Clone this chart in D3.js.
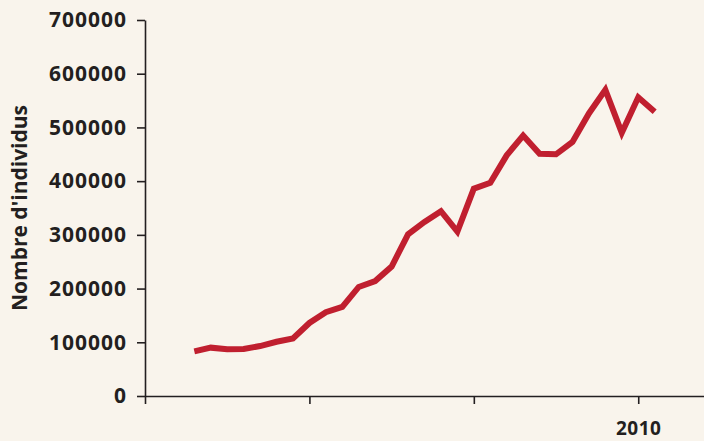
<!DOCTYPE html>
<html>
<head>
<meta charset="utf-8">
<script src="https://cdn.jsdelivr.net/npm/d3@7"></script>
<style>
  html, body { margin: 0; padding: 0; background: #f9f4ec; }
  svg { display: block; }
  .axis text { font-family: "Open Sans", sans-serif; font-weight: 700; fill: #231f20; }
</style>
</head>
<body>
<div id="graph"></div>
<script>
// yearly counts
var years = [1983, 1984, 1985, 1986, 1987, 1988, 1989, 1990, 1991, 1992,
             1993, 1994, 1995, 1996, 1997, 1998, 1999, 2000, 2001, 2002,
             2003, 2004, 2005, 2006, 2007, 2008, 2009, 2010, 2011];
var individus = [83000, 90000, 87000, 87500, 93000, 101000, 107000, 136000, 156000, 166000,
                 203000, 214000, 241000, 301000, 324000, 344000, 306000, 386000, 397000, 448000,
                 485000, 451000, 450000, 473000, 526000, 570000, 490000, 556000, 529000];
var yTicks = [0, 100000, 200000, 300000, 400000, 500000, 600000, 700000];
var xTicks = [1980, 1990, 2000, 2010];
var xLabels = {2010: "2010"};

var svgWidth = 704, svgHeight = 441;
var margin = {top: 20, right: 0, bottom: 45, left: 145};

var svg = d3.select('#graph').append('svg')
  .attr("width", svgWidth)
  .attr("height", svgHeight);
var width = svgWidth - margin.left - margin.right;
var height = svgHeight - margin.top - margin.bottom;

var g = svg.append('g')
  .attr('transform', 'translate(' + margin.left + ',' + margin.top + ')');

var x = d3.scaleLinear().domain([1980, 2014]).range([0, width]);
var y = d3.scaleLinear().domain([0, 700000]).range([height, 0]);

// x axis
var xAxis = g.append("g")
  .attr("class", "axis")
  .attr("transform", "translate(0," + height + ")")
  .call(d3.axisBottom(x)
    .tickValues(xTicks)
    .tickSize(8)
    .tickSizeOuter(0)
    .tickPadding(18)
    .tickFormat(function(d) { return xLabels[d] || ""; }));
xAxis.selectAll("text").style("font-size", "19px").style("letter-spacing", "0.5px");

// y axis
var yAxis = g.append("g")
  .attr("class", "axis")
  .call(d3.axisLeft(y)
    .tickValues(yTicks)
    .tickSize(8)
    .tickSizeOuter(0)
    .tickPadding(10)
    .tickFormat(d3.format("d")));
yAxis.selectAll("text").style("font-size", "21px").style("letter-spacing", "1px");

svg.selectAll(".axis path, .axis line")
  .attr("stroke", "#231f20")
  .attr("stroke-width", 1.6);

// axis title
svg.append("text")
  .attr("transform", "translate(27," + (margin.top + height / 2) + ") rotate(-90)")
  .attr("text-anchor", "middle")
  .style("font-family", "'Open Sans', sans-serif")
  .style("font-weight", 700)
  .style("font-size", "21px")
  .style("fill", "#231f20")
  .text("Nombre d'individus");

// the series
var line = d3.line()
  .x(function(d, i) { return x(years[i]); })
  .y(function(d) { return y(d); });

g.append("path")
  .datum(individus)
  .attr("fill", "none")
  .attr("stroke", "#c01f2f")
  .attr("stroke-width", 6)
  .attr("stroke-linejoin", "miter")
  .attr("d", line);
</script>
</body>
</html>
